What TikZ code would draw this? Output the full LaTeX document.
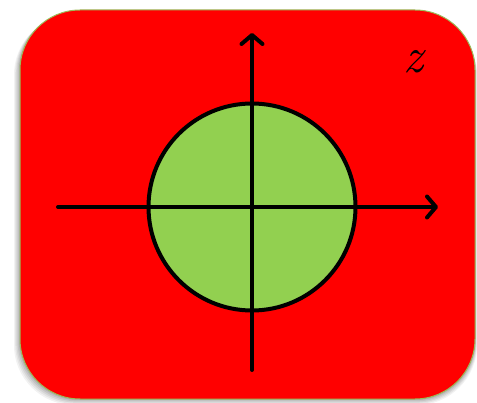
\documentclass[tikz,border=0pt]{standalone}
\usetikzlibrary{arrows.meta}
\definecolor{boxred}{RGB}{255,0,0}
\definecolor{boxedge}{RGB}{155,187,89}
\definecolor{discgreen}{RGB}{146,208,80}
\tikzset{
  axis/.style={line width=4pt, line cap=round, -{Straight Barb[length=9pt,width=21pt,line cap=round,line join=round]}},
  disc/.style={circle, draw=black, line width=4pt, fill=discgreen, minimum size=207pt, inner sep=0pt},
  board/.style={draw=boxedge, line width=1pt, fill=boxred, rounded corners=60pt},
}
\begin{document}
\begin{tikzpicture}[x=1pt,y=1pt]
\useasboundingbox (0,0) rectangle (477,402);
% soft shadow
\foreach \i/\o in {5/0.05,4/0.06,3/0.07,2/0.08,1/0.09}{
  \fill[black, opacity=\o, rounded corners=60pt] (20-1.2*\i,3-1.2*\i) rectangle (475+0.4*\i,392-\i);
}
\draw[board] (20,3) rectangle (475,392);
\node[disc] (c) at (252,195) {};
\coordinate (hl) at (58,195);
\coordinate (hr) at (438,195);
\coordinate (vb) at (252,32);
\coordinate (vt) at (252,369);
\draw[axis] (hl) -- (hr);
\draw[axis] (vb) -- (vt);
\node[inner sep=0pt] (z) at (413,340) {\fontsize{50}{56}\selectfont\itshape z};
\end{tikzpicture}
\end{document}
